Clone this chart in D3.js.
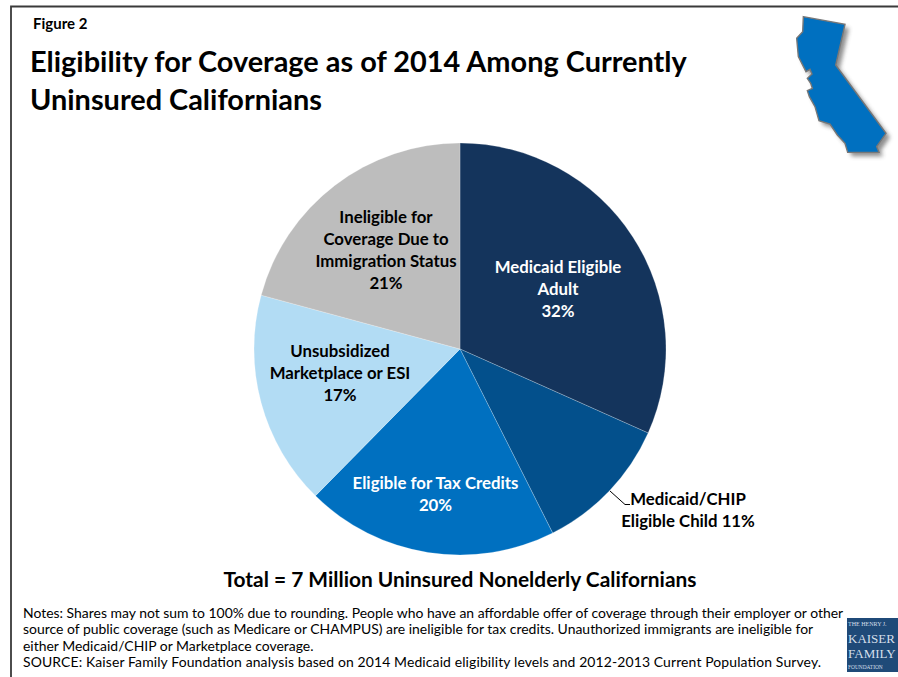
<!DOCTYPE html>
<html>
<head>
<meta charset="utf-8">
<script src="https://cdn.jsdelivr.net/npm/d3@7"></script>
<style>
html, body { margin: 0; padding: 0; background: #fff; overflow: hidden; }
text { font-family: Lato, "Open Sans", sans-serif; font-weight: 700; }
</style>
</head>
<body>
<svg id="chart" width="898" height="677"></svg>
<script>
// Coverage groups, drawn clockwise from twelve o'clock
const categories = ["Medicaid Eligible Adult", "Medicaid/CHIP Eligible Child", "Eligible for Tax Credits", "Unsubsidized Marketplace or ESI", "Ineligible for Coverage Due to Immigration Status"];
const shares = [32, 11, 20, 17, 21];
const sliceColors = ["#14345c", "#03508c", "#0070c0", "#b2dcf4", "#bdbdbd"];
const labelLines = [
  ["Medicaid Eligible", "Adult", "32%"],
  ["Medicaid/CHIP", "Eligible Child 11%"],
  ["Eligible for Tax Credits", "20%"],
  ["Unsubsidized", "Marketplace or ESI", "17%"],
  ["Ineligible for", "Coverage Due to", "Immigration Status", "21%"]
];
const labelColors = ["#fff", "#000", "#fff", "#000", "#000"];
const labelCenters = [[558, 267], [688, 499], [435.5, 482.5], [340, 351], [386, 217]];
const titleLines = ["Eligibility for Coverage as of 2014 Among Currently", "Uninsured Californians"];
const noteLines = [
  "Notes: Shares may not sum to 100% due to rounding. People who have an affordable offer of coverage through their employer or other",
  "source of public coverage (such as Medicare or CHAMPUS) are ineligible for tax credits. Unauthorized immigrants are ineligible for",
  "either Medicaid/CHIP or Marketplace coverage.",
  "SOURCE: Kaiser Family Foundation analysis based on 2014 Medicaid eligibility levels and 2012-2013 Current Population Survey."
];
const stateOutline = [[70,50],[195,73],[167,195],[318,400],[290,440],[297,457],[203,457],[195,430],[172,405],[150,372],[117,362],[105,320],[88,290],[82,272],[97,265],[92,250],[82,235],[96,222],[90,208],[78,215],[55,170],[50,115],[68,95]];

const svg = d3.select("#chart");
const defs = svg.append("defs");
defs.append("filter").attr("id", "soft").append("feGaussianBlur").attr("stdDeviation", 2);

// Figure frame: top and left rules
svg.append("path").attr("d", "M11,677V6.5H898").attr("fill", "none").attr("stroke", "#3a3a3a").attr("stroke-width", 1.8);

svg.append("text").attr("x", 33).attr("y", 29).attr("font-size", 15).text("Figure 2");
svg.append("g").selectAll("text").data(titleLines).join("text")
  .attr("x", 30).attr("y", (d, i) => 72 + i * 38)
  .attr("font-size", 28.9).text(d => d);

// California silhouette with a soft drop shadow
const stateX = d3.scaleLinear().domain([0, 3]).range([780, 781]);
const stateY = d3.scaleLinear().domain([0, 3]).range([0, 1]);
const stateLine = d3.line().x(d => stateX(d[0])).y(d => stateY(d[1])).curve(d3.curveLinearClosed);
svg.append("path").attr("d", stateLine(stateOutline)).attr("fill", "#444").attr("opacity", .6)
  .attr("filter", "url(#soft)").attr("transform", "translate(4,4)");
svg.append("path").attr("d", stateLine(stateOutline)).attr("fill", "#0070c0").attr("stroke", "#777").attr("stroke-width", 1.4);

// Pie
const cx = 460, cy = 349, radius = 206;
const pie = d3.pie().sort(null).value(d => d);
const arc = d3.arc().innerRadius(0).outerRadius(radius);
const pieG = svg.append("g").attr("transform", `translate(${cx},${cy})`);
pieG.selectAll("path").data(pie(shares)).join("path")
  .attr("d", arc).attr("fill", (d, i) => sliceColors[i])
  .attr("stroke", "#fff").attr("stroke-opacity", .45).attr("stroke-width", .5);

// Slice labels
svg.append("g").selectAll("text").data(labelLines).join("text")
  .attr("text-anchor", "middle").attr("font-size", 16.8).attr("fill", (d, i) => labelColors[i])
  .each(function (lines, i) {
    d3.select(this).selectAll("tspan").data(lines).join("tspan")
      .attr("x", labelCenters[i][0])
      .attr("y", (d, j) => labelCenters[i][1] + 6 + j * 22)
      .text(d => d);
  });

// Leader for the child slice
svg.append("path").attr("d", "M610,491L625,504.5H630").attr("fill", "none").attr("stroke", "#000").attr("stroke-width", 1);

svg.append("text").attr("x", 460).attr("y", 587).attr("text-anchor", "middle").attr("font-size", 20.9)
  .text("Total = 7 Million Uninsured Nonelderly Californians");

// Notes; the source line is set to the same right-hand reach as the text above it
const noteWidths = [null, null, null, 798];
svg.append("g").selectAll("text").data(noteLines).join("text")
  .attr("x", 23).attr("y", (d, i) => 618 + i * 16.3)
  .attr("font-size", 13.95).style("font-weight", 400)
  .attr("textLength", (d, i) => noteWidths[i])
  .text(d => d);

// Foundation badge
const logo = svg.append("g");
logo.append("rect").attr("x", 847).attr("y", 618).attr("width", 51).attr("height", 54).attr("fill", "#1f4a78");
const logoLines = [["THE HENRY J.", 626, 6], ["KAISER", 643, 13], ["FAMILY", 657.5, 13], ["FOUNDATION", 669, 5.4]];
logo.selectAll("text").data(logoLines).join("text")
  .attr("x", 848).attr("y", d => d[1]).attr("font-size", d => d[2])
  .attr("fill", "#d5dfea").style("font-family", "'Liberation Serif', serif").style("font-weight", 400)
  .text(d => d[0]);
</script>
</body>
</html>
